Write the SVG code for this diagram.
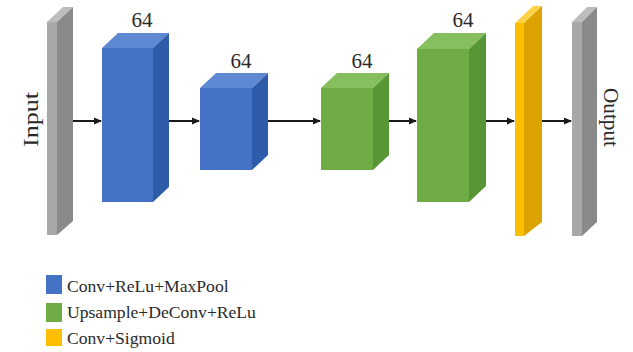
<svg xmlns="http://www.w3.org/2000/svg" width="633" height="352" viewBox="0 0 633 352">
<defs>
<style>
.lbl{font-family:"Liberation Serif","Times New Roman",serif;fill:#2a2a2a}
.n{font-size:21px;text-anchor:middle}
.lg{font-size:17.6px}
.conn{stroke:#1a1a1a;stroke-width:2;fill:none}
.bf{fill:#4472c4}.bt{fill:#5f88d2}.bs{fill:#2f5bab}
.gf{fill:#6fac46}.gt{fill:#86bf5e}.gs{fill:#579634}
.yf{fill:#fcbf00}.yt{fill:#ffd24a}.ys{fill:#dca300}
.af{fill:#a8a8a8}.at{fill:#bdbdbd}.as{fill:#8a8a8a}
</style>
<marker id="ah" markerWidth="8" markerHeight="8" refX="7" refY="4" orient="auto" markerUnits="userSpaceOnUse">
<path d="M0,0.5 L8,4 L0,7.5 Z" fill="#1a1a1a"/>
</marker>
</defs>
<rect width="633" height="352" fill="#ffffff"/>

<g id="input">
<polygon class="at" points="47,22 57,22 73,7 63,7"/>
<rect class="af" x="47" y="22" width="10" height="213"/>
<polygon class="as" points="57,22 73,7 73,221 57,235"/>
<text class="lbl" font-size="20" transform="translate(38,147) rotate(-90)" textLength="55" lengthAdjust="spacingAndGlyphs">Input</text>
</g>

<g id="conv1">
<polygon class="bt" points="102,48 153,48 169,33 118,33"/>
<rect class="bf" x="102" y="48" width="51" height="154"/>
<polygon class="bs" points="153,48 169,33 169,187 153,202"/>
<text class="lbl n" x="142" y="27">64</text>
</g>

<g id="conv2">
<polygon class="bt" points="200,88 252,88 268,73 216,73"/>
<rect class="bf" x="200" y="88" width="52" height="82"/>
<polygon class="bs" points="252,88 268,73 268,155 252,170"/>
<text class="lbl n" x="241" y="68">64</text>
</g>

<g id="up1">
<polygon class="gt" points="321,88 373,88 389,73 337,73"/>
<rect class="gf" x="321" y="88" width="52" height="82"/>
<polygon class="gs" points="373,88 389,73 389,155 373,170"/>
<text class="lbl n" x="362" y="68">64</text>
</g>

<g id="up2">
<polygon class="gt" points="417,49 469,49 486,33 434,33"/>
<rect class="gf" x="417" y="49" width="52" height="153"/>
<polygon class="gs" points="469,49 486,33 486,186 469,202"/>
<text class="lbl n" x="463" y="27">64</text>
</g>

<g id="sigmoid">
<polygon class="yt" points="515,23 524,23 542,6 533,6"/>
<rect class="yf" x="515" y="23" width="9" height="213"/>
<polygon class="ys" points="524,23 542,6 542,222 524,236"/>
</g>

<g id="output">
<polygon class="at" points="572,22 582,22 597,7 587,7"/>
<rect class="af" x="572" y="22" width="10" height="214"/>
<polygon class="as" points="582,22 597,7 597,222 582,236"/>
<text class="lbl" font-size="21" transform="translate(604,88) rotate(90)" textLength="59" lengthAdjust="spacingAndGlyphs">Output</text>
</g>

<g id="connectors">
<line class="conn" x1="73" y1="121" x2="101" y2="121" marker-end="url(#ah)"/>
<line class="conn" x1="169" y1="121" x2="199" y2="121" marker-end="url(#ah)"/>
<line class="conn" x1="268" y1="121" x2="320" y2="121" marker-end="url(#ah)"/>
<line class="conn" x1="389" y1="121" x2="416" y2="121" marker-end="url(#ah)"/>
<line class="conn" x1="486" y1="121" x2="514" y2="121" marker-end="url(#ah)"/>
<line class="conn" x1="542" y1="121" x2="571" y2="121" marker-end="url(#ah)"/>
</g>

<g id="legend">
<rect class="bf" x="46" y="275" width="16" height="19"/>
<text class="lbl lg" x="67" y="292">Conv+ReLu+MaxPool</text>
<rect class="gf" x="46" y="303" width="16" height="19"/>
<text class="lbl lg" x="67" y="318">Upsample+DeConv+ReLu</text>
<rect class="yf" x="46" y="329" width="16" height="17"/>
<text class="lbl lg" x="67" y="344">Conv+Sigmoid</text>
</g>
</svg>
